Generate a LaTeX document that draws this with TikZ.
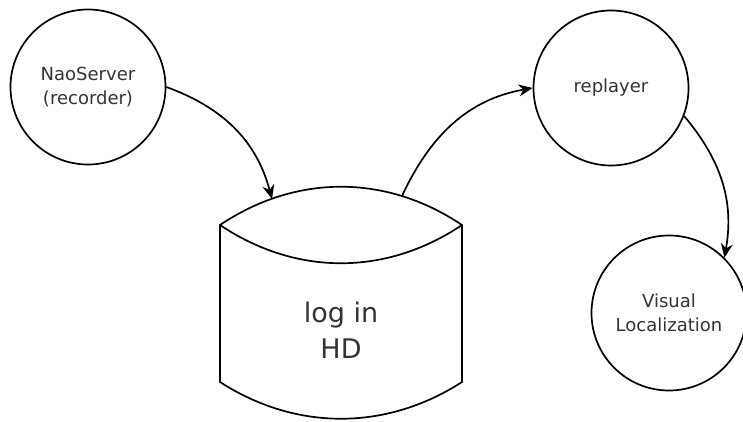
\documentclass[tikz,border=0pt]{standalone}
\usepackage{fontspec}
\setmainfont{DejaVu Sans}
\usetikzlibrary{arrows.meta,positioning}

\begin{document}
\begin{tikzpicture}[
		x=1pt, y=1pt,
		etat/.style={circle, draw, line width=1.7pt, minimum size=155pt, inner sep=0pt, align=center, text=black!80, font=\fontsize{18}{24}\selectfont},
		disque/.style={line width=1.7pt, line join=miter},
		fleche/.style={line width=1.7pt, -{Stealth[length=14pt, width=12pt]}}
		]
	
		\useasboundingbox (0,0) rectangle (743,422);
	
		% Processus
		\node[etat] (nao) at (88,335) {NaoServer\\(recorder)};
		\node[etat] (rep) at (611,334) {replayer};
		\node[etat] (vis) at (669,109) {Visual\\Localization};
	
		% Disque
		\draw[disque] (220,197) .. controls (296,248) and (386,248) .. (462,197)
			-- (462,40) .. controls (386,-9) and (296,-9) .. (220,40) -- cycle;
		\draw[disque] (220,197) .. controls (296,146) and (386,146) .. (462,197);
		\node[align=center, text=black!80, font=\fontsize{27}{36}\selectfont] (hd) at (341,92) {log in\\HD};
		\coordinate (hdin) at (272,223);
		\coordinate (hdout) at (402,226);
	
		% Fleches
		\draw[fleche] (nao.east) to[out=-20, in=105] (hdin);
		\draw[fleche] (hdout) to[out=65, in=190] (rep.west);
		\draw[fleche] (rep.-21) to[out=-50, in=80] (vis.45);
	\end{tikzpicture}
\end{document}
